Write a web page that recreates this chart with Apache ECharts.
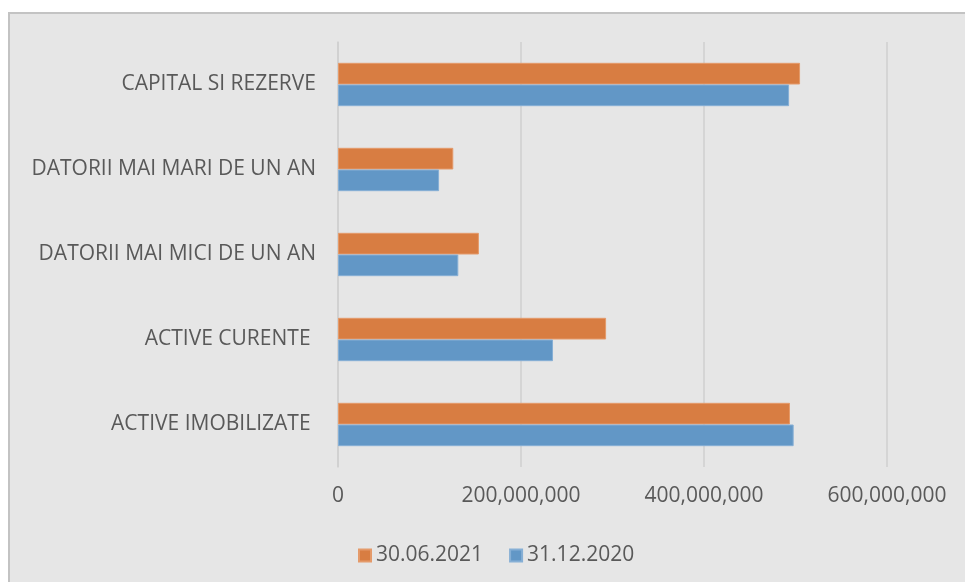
<!DOCTYPE html>
<html><head><meta charset="utf-8">
<script src="https://cdn.jsdelivr.net/npm/echarts@6/dist/echarts.min.js"></script>
<style>html,body{margin:0;padding:0;background:#fff}#c{width:965px;height:582px}</style>
</head><body><div id="c"></div>
<script>
const categories = ['ACTIVE IMOBILIZATE ', 'ACTIVE CURENTE ', 'DATORII MAI MICI DE UN AN', 'DATORII MAI MARI DE UN AN', 'CAPITAL SI REZERVE'];
const seriesNames = ['30.06.2021', '31.12.2020'];
const values2021 = [494000000, 293000000, 154000000, 126000000, 505000000];
const values2020 = [498000000, 235000000, 131500000, 110500000, 493000000];
const xTicks = [0, 200000000, 400000000, 600000000];

const font = 'Open Sans';
const txt = '#595959';
function fmt(v){ return String(v).replace(/\B(?=(\d{3})+(?!\d))/g, ','); }

const chart = echarts.init(document.getElementById('c'), null, {renderer:'canvas'});
chart.setOption({
  backgroundColor: '#ffffff',
  animation: false,
  graphic: [{
    type: 'rect', z: -10, silent: true,
    shape: {x: 9, y: 13, width: 970, height: 580},
    style: {fill: '#e6e6e6', stroke: '#c3c3c3', lineWidth: 2}
  }],
  grid: {left: 338, right: 78, top: 42, bottom: 115, containLabel: false},
  legend: {
    data: seriesNames,
    top: 540, left: 353,
    itemWidth: 12, itemHeight: 12, itemGap: 26,
    icon: 'rect',
    textStyle: {color: txt, fontFamily: font, fontSize: 21}
  },
  xAxis: {
    type: 'value', min: xTicks[0], max: xTicks[xTicks.length-1], interval: xTicks[1]-xTicks[0],
    axisLine: {show: false}, axisTick: {show: false},
    splitLine: {lineStyle: {color: '#cfcfcf', width: 1.5}},
    axisLabel: {color: txt, fontFamily: font, fontSize: 21, margin: 19, formatter: fmt}
  },
  yAxis: {
    type: 'category', data: categories,
    axisLine: {show: true, lineStyle: {color: '#cfcfcf', width: 1.5}},
    axisTick: {show: false},
    axisLabel: {color: txt, fontFamily: font, fontSize: 21, margin: 22}
  },
  series: [
    {name: seriesNames[0], type: 'bar', data: values2021, barGap: '0%', barCategoryGap: '49%',
     itemStyle: {color: '#d87d42', borderColor: '#e49a6a', borderWidth: 1}},
    {name: seriesNames[1], type: 'bar', data: values2020, barGap: '0%', barCategoryGap: '49%',
     itemStyle: {color: '#6297c6', borderColor: '#86afd5', borderWidth: 1}}
  ]
});
</script></body></html>
